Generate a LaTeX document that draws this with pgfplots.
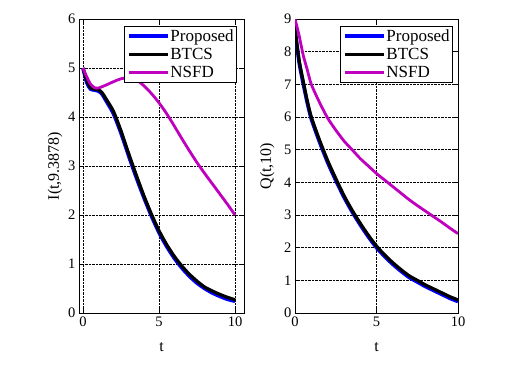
\documentclass[border=0pt]{standalone}
\usepackage{pgfplots}
\pgfplotsset{compat=1.18}
\usepackage{fontspec}
\setmainfont{Liberation Serif}

\pgfplotsset{
  panel/.style={
    scale only axis, width=165pt, height=294pt,
    ymin=0, xtick={0,5,10},
    grid=major, major grid style={black, densely dotted, line width=0.5pt},
    tick align=inside, tick style={black, line width=0.5pt},
    axis line style={line width=0.9pt},
    tick label style={font=\fontsize{14.5}{16}\selectfont},
    label style={font=\fontsize{16}{18}\selectfont},
    /pgf/number format/assume math mode=true,
    xlabel={t},
    xlabel style={at={(axis description cs:0.5,-0.115)}, anchor=center},
    legend cell align=left,
    legend style={draw=black, line width=0.8pt, inner xsep=2pt, inner ysep=2pt,
      row sep=3.5pt, font=\fontsize{17}{18}\selectfont,
      nodes={inner xsep=1pt, inner ysep=1pt}},
    legend image code/.code={\draw[#1] (0pt,0pt) -- (39pt,0pt);},
  },
  prop/.style={blue, line width=3.6pt, smooth, tension=0.4},
  btcs/.style={black, line width=3.2pt, smooth, tension=0.4},
  nsfd/.style={color={rgb,1:red,0.75;green,0;blue,0.75}, line width=2.8pt, smooth, tension=0.4},
}

\begin{document}
\begin{tikzpicture}[x=1pt,y=1pt]
\path (0,0) rectangle (509,381);

\begin{axis}[panel, at={(79pt,68pt)}, anchor=south west,
  xmin=-0.26, xmax=10.59, ymax=6, ytick={0,1,...,6},
  ylabel={I(t,9.3878)},
  ylabel style={at={(axis description cs:-0.145,0.5)}, anchor=center},
  legend style={at={(0.958,0.976)}, anchor=north east}]
\addplot[prop] coordinates {(0,5.0) (0.25,4.70) (0.5,4.57) (0.75,4.55) (1,4.53) (1.25,4.47) (1.5,4.34) (2,4.07) (2.5,3.67) (3,3.21) (3.5,2.77) (4,2.36) (4.5,1.98) (5,1.64) (5.5,1.36) (6,1.12) (6.5,0.92) (7,0.75) (7.5,0.61) (8,0.50) (8.5,0.41) (9,0.34) (9.5,0.28) (10,0.24)};
\addplot[btcs] coordinates {(0,5.0) (0.25,4.75) (0.5,4.60) (0.75,4.57) (1,4.56) (1.25,4.50) (1.5,4.38) (2,4.12) (2.5,3.72) (3,3.26) (3.5,2.82) (4,2.40) (4.5,2.02) (5,1.68) (5.5,1.40) (6,1.16) (6.5,0.96) (7,0.79) (7.5,0.65) (8,0.53) (8.5,0.45) (9,0.38) (9.5,0.32) (10,0.27)};
\addplot[nsfd] coordinates {(0,5.0) (0.25,4.82) (0.5,4.67) (0.75,4.60) (1,4.59) (1.5,4.65) (2,4.72) (2.5,4.78) (3,4.80) (3.5,4.76) (4,4.64) (4.5,4.48) (5,4.29) (5.5,4.07) (6,3.82) (6.5,3.56) (7,3.31) (7.5,3.07) (8,2.85) (8.5,2.64) (9,2.43) (9.5,2.22) (10,2.0)};
\legend{Proposed, BTCS, NSFD}
\end{axis}

\begin{axis}[panel, at={(295pt,68pt)}, anchor=south west, width=163pt,
  xmin=0, xmax=10, ymax=9, ytick={0,1,...,9},
  ylabel={Q(t,10)},
  ylabel style={at={(axis description cs:-0.17,0.5)}, anchor=center},
  legend style={at={(0.97,0.976)}, anchor=north east}]
\addplot[prop] coordinates {(0,8.65) (0.25,7.68) (0.5,7.03) (0.75,6.44) (1,5.94) (1.5,5.24) (2,4.61) (2.5,4.06) (3,3.55) (3.5,3.10) (4,2.70) (4.5,2.33) (5,2.00) (5.5,1.73) (6,1.49) (6.5,1.28) (7,1.09) (7.5,0.95) (8,0.81) (8.5,0.69) (9,0.57) (9.5,0.45) (10,0.35)};
\addplot[btcs] coordinates {(0,8.7) (0.25,7.75) (0.5,7.10) (0.75,6.50) (1,6.00) (1.5,5.30) (2,4.67) (2.5,4.12) (3,3.60) (3.5,3.15) (4,2.75) (4.5,2.38) (5,2.05) (5.5,1.78) (6,1.54) (6.5,1.33) (7,1.14) (7.5,1.00) (8,0.86) (8.5,0.74) (9,0.62) (9.5,0.50) (10,0.40)};
\addplot[nsfd] coordinates {(0,9.0) (0.25,8.5) (0.5,7.9) (0.75,7.45) (1,7.0) (1.5,6.45) (2,5.97) (2.5,5.60) (3,5.27) (3.5,5.0) (4,4.73) (4.5,4.50) (5,4.27) (5.5,4.07) (6,3.87) (6.5,3.67) (7,3.47) (7.5,3.29) (8,3.12) (8.5,2.95) (9,2.78) (9.5,2.60) (10,2.43)};
\legend{Proposed, BTCS, NSFD}
\end{axis}
\end{tikzpicture}
\end{document}
